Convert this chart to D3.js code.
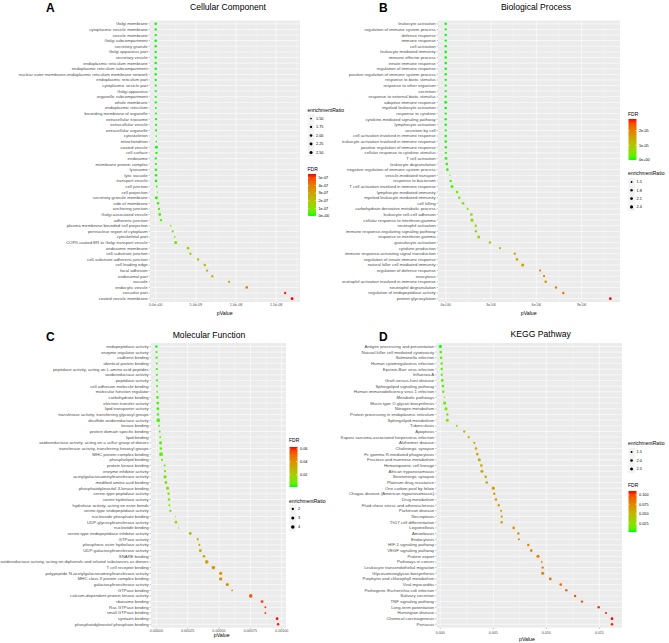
<!DOCTYPE html>
<html><head><meta charset="utf-8">
<script src="https://cdn.jsdelivr.net/npm/d3@7"></script>
<style>body{margin:0;background:#fff}svg{display:block}text{font-family:"Liberation Sans",Arial,sans-serif}</style>
</head><body>
<svg id="c" width="669" height="643"></svg>
<script>
// ---------------- DATA ----------------
const ccTerms = ["Golgi membrane","cytoplasmic vesicle membrane","vesicle membrane","Golgi subcompartment","secretory granule","Golgi apparatus part","secretory vesicle","endoplasmic reticulum membrane","endoplasmic reticulum subcompartment","nuclear outer membrane-endoplasmic reticulum membrane network","endoplasmic reticulum part","cytoplasmic vesicle part","Golgi apparatus","organelle subcompartment","whole membrane","endoplasmic reticulum","bounding membrane of organelle","extracellular exosome","extracellular vesicle","extracellular organelle","cytoskeleton","mitochondrion","coated vesicle","cell surface","endosome","membrane protein complex","lysosome","lytic vacuole","transport vesicle","cell junction","cell projection","secretory granule membrane","side of membrane","anchoring junction","Golgi-associated vesicle","adherens junction","plasma membrane bounded cell projection","perinuclear region of cytoplasm","cytoskeletal part","COPII-coated ER to Golgi transport vesicle","endosome membrane","cell-substrate junction","cell-substrate adherens junction","cell leading edge","focal adhesion","endosomal part","vacuole","endocytic vesicle","vacuolar part","coated vesicle membrane"];
const ccPValue = [1.2e-15,4.5e-15,9.0e-15,2.1e-14,5.6e-14,1.3e-13,2.4e-13,4.8e-13,7.1e-13,1.1e-12,1.6e-12,2.9e-12,4.4e-12,7.8e-12,1.2e-11,1.9e-11,2.6e-11,3.9e-11,4.3e-11,4.6e-11,6.2e-11,7.5e-11,8.8e-11,9.6e-11,1.0e-11,2.0e-11,3.0e-11,4.0e-11,5.0e-11,1.2e-10,2.0e-10,8.0e-11,2.9e-10,4.1e-10,5.0e-10,6.6e-10,1.87e-9,2.12e-9,2.37e-9,2.49e-9,4.03e-9,4.32e-9,5.28e-9,6.11e-9,6.40e-9,7.06e-9,9.14e-9,1.134e-8,1.612e-8,1.699e-8];
const ccFDR = [6.0e-14,1.1e-13,1.5e-13,2.7e-13,5.6e-13,1.1e-12,1.7e-12,3.0e-12,4.0e-12,5.6e-12,7.8e-12,1.3e-11,1.8e-11,3.0e-11,4.3e-11,6.4e-11,8.3e-11,1.2e-10,1.2e-10,1.2e-10,1.6e-10,1.8e-10,2.1e-10,2.1e-10,1.2e-9,1.5e-9,1.7e-9,1.8e-9,1.9e-9,5.4e-9,1.0e-8,5.1e-9,1.4e-8,2.0e-8,2.3e-8,3.0e-8,8.2e-8,9.0e-8,9.8e-8,1.01e-7,1.59e-7,1.67e-7,1.99e-7,2.25e-7,2.30e-7,2.49e-7,3.15e-7,3.83e-7,5.33e-7,5.50e-7];
const ccRatio = [2.0,1.8,1.8,2.0,1.9,1.8,1.8,1.9,1.9,1.9,1.8,1.7,1.7,1.7,1.8,1.6,1.6,1.7,1.7,1.7,1.5,1.5,2.3,1.8,1.8,1.7,1.9,1.9,2.0,1.6,1.45,2.5,2.0,1.8,2.2,1.8,1.5,1.7,1.5,2.6,2.0,1.8,1.8,2.0,1.8,1.8,1.7,2.0,1.8,2.3];
const ccXTicks = [0,5e-9,1e-8,1.5e-8];
const ccXTickLabels = ["0.0e+00","5.0e-09","1.0e-08","1.5e-08"];
const ccRatioBreaks = [1.5,1.75,2.0,2.25,2.5];
const ccRatioLabels = ["1.50","1.75","2.00","2.25","2.50"];
const ccFDRBreaks = [0,1e-7,2e-7,3e-7,4e-7,5e-7];
const ccFDRLabels = ["0e+00","1e-07","2e-07","3e-07","4e-07","5e-07"];

const bpTerms = ["leukocyte activation","regulation of immune system process","defense response","immune response","cell activation","leukocyte mediated immunity","immune effector process","innate immune response","regulation of immune response","positive regulation of immune system process","response to biotic stimulus","response to other organism","secretion","response to external biotic stimulus","adaptive immune response","myeloid leukocyte activation","response to cytokine","cytokine-mediated signaling pathway","lymphocyte activation","secretion by cell","cell activation involved in immune response","leukocyte activation involved in immune response","positive regulation of immune response","cellular response to cytokine stimulus","T cell activation","leukocyte degranulation","negative regulation of immune system process","vesicle-mediated transport","response to bacterium","T cell activation involved in immune response","lymphocyte mediated immunity","myeloid leukocyte mediated immunity","cell killing","carbohydrate derivative metabolic process","leukocyte cell-cell adhesion","cellular response to interferon-gamma","neutrophil activation","immune response-regulating signaling pathway","response to interferon-gamma","granulocyte activation","cytokine production","immune response-activating signal transduction","regulation of innate immune response","natural killer cell mediated immunity","regulation of defense response","exocytosis","neutrophil activation involved in immune response","neutrophil degranulation","regulation of endopeptidase activity","protein glycosylation"];
const bpPValue = [1e-16,3e-16,8e-16,2e-15,5e-15,1e-14,3e-14,8e-14,2e-13,5e-13,1e-12,2e-12,5e-12,1e-11,3e-11,6e-11,1e-10,2e-10,4e-10,8e-10,1.5e-9,3e-9,6e-9,1.0e-8,2.0e-8,7.0e-8,1.1e-7,2.8e-7,3.3e-7,4.2e-7,7.5e-7,9.0e-7,1.15e-6,1.45e-6,1.70e-6,1.74e-6,1.99e-6,2.0e-6,2.18e-6,2.93e-6,3.60e-6,4.57e-6,4.72e-6,5.10e-6,6.25e-6,6.51e-6,6.62e-6,7.30e-6,7.79e-6,1.09e-5];
const bpFDR = [1e-12,2e-12,4e-12,8e-12,1.5e-11,3e-11,6e-11,1e-10,2e-10,4e-10,7e-10,1e-9,2e-9,4e-9,7e-9,1e-8,1.5e-8,2.5e-8,4e-8,6e-8,8e-8,1e-7,1.3e-7,1.6e-7,2.0e-7,3.5e-7,5.0e-7,1.3e-6,1.5e-6,1.8e-6,3.1e-6,3.6e-6,4.5e-6,5.5e-6,6.2e-6,6.2e-6,6.9e-6,6.8e-6,7.2e-6,9.4e-6,1.13e-5,1.40e-5,1.41e-5,1.49e-5,1.78e-5,1.82e-5,1.81e-5,1.95e-5,2.04e-5,2.80e-5];
const bpRatio = [1.9,1.7,1.8,1.7,1.8,2.0,1.9,1.9,1.8,1.8,1.7,1.7,1.6,1.7,2.1,2.0,1.7,1.8,1.8,1.6,1.9,1.9,1.8,1.6,2.1,2.0,2.0,1.4,1.8,2.3,2.0,1.9,2.0,1.6,2.0,2.4,1.8,1.8,2.4,1.8,1.6,1.8,1.9,2.5,1.7,1.7,1.8,1.8,1.9,2.0];
const bpXTicks = [0,3e-6,6e-6,9e-6];
const bpXTickLabels = ["0e+00","3e-06","6e-06","9e-06"];
const bpFDRBreaks = [0,1e-5,2e-5];
const bpFDRLabels = ["0e+00","1e-05","2e-05"];
const bpRatioBreaks = [1.5,1.8,2.1,2.4];
const bpRatioLabels = ["1.5","1.8","2.1","2.4"];

const mfTerms = ["endopeptidase activity","enzyme regulator activity","cadherin binding","identical protein binding","peptidase activity, acting on L-amino acid peptides","oxidoreductase activity","peptidase activity","cell adhesion molecule binding","molecular function regulator","carbohydrate binding","electron transfer activity","lipid transporter activity","transferase activity, transferring glycosyl groups","disulfide oxidoreductase activity","kinase binding","protein domain specific binding","lipid binding","oxidoreductase activity, acting on a sulfur group of donors","transferase activity, transferring hexosyl groups","MHC protein complex binding","phospholipid binding","protein kinase binding","enzyme inhibitor activity","acetylgalactosaminyltransferase activity","modified amino acid binding","phosphatidylinositol 3-kinase binding","serine-type peptidase activity","serine hydrolase activity","hydrolase activity, acting on ester bonds","serine-type endopeptidase activity","nucleoside phosphate binding","UDP-glycosyltransferase activity","nucleotide binding","serine-type endopeptidase inhibitor activity","GTPase activity","phosphoric ester hydrolase activity","UDP-galactosyltransferase activity","SNARE binding","oxidoreductase activity, acting on diphenols and related substances as donors","T cell receptor binding","polypeptide N-acetylgalactosaminyltransferase activity","MHC class II protein complex binding","galactosyltransferase activity","GTPase binding","calcium-dependent protein kinase activity","ribosome binding","Ras GTPase binding","small GTPase binding","syntaxin binding","phosphatidylinositol phosphate binding"];
const mfPValue = [3e-7,1.5e-6,2.0e-6,3.0e-6,3.5e-6,4.0e-6,4.5e-6,6.0e-6,6.5e-6,9e-6,1.1e-5,1.2e-5,1.3e-5,1.6e-5,2.2e-5,2.7e-5,3.1e-5,3.4e-5,3.7e-5,3.8e-5,4.5e-5,6.6e-5,6.9e-5,7.0e-5,7.7e-5,9.0e-5,9.8e-5,1.01e-4,1.04e-4,1.12e-4,1.54e-4,1.57e-4,1.78e-4,2.71e-4,3.30e-4,3.43e-4,3.51e-4,3.80e-4,4.02e-4,4.55e-4,5.13e-4,5.13e-4,5.66e-4,6.04e-4,7.53e-4,8.43e-4,8.70e-4,8.70e-4,9.63e-4,9.71e-4];
const mfFDR = [0.0010,0.0024,0.0021,0.0024,0.0022,0.0021,0.0021,0.0024,0.0023,0.0029,0.0032,0.0032,0.0032,0.0037,0.0047,0.0054,0.0058,0.0060,0.0062,0.0061,0.0069,0.0096,0.0096,0.0093,0.0099,0.0111,0.0116,0.0115,0.0115,0.0119,0.0159,0.0157,0.0173,0.0255,0.0302,0.0305,0.0304,0.0320,0.0330,0.0364,0.0400,0.0390,0.0421,0.0439,0.0535,0.0586,0.0592,0.0580,0.0629,0.0621];
const mfRatio = [2.2,1.9,2.0,1.7,2.0,1.8,1.9,1.8,1.6,2.4,2.8,2.8,2.3,4.4,1.7,1.8,1.7,3.2,2.5,4.6,1.9,1.8,2.0,3.6,2.6,3.2,2.2,2.2,1.8,2.2,1.5,2.6,1.5,2.8,2.0,1.8,3.0,2.4,4.2,4.2,3.4,3.6,3.0,1.6,4.2,2.6,1.7,1.7,2.4,2.1];
const mfXTicks = [0,0.00025,0.0005,0.00075,0.001];
const mfXTickLabels = ["0.00000","0.00025","0.00050","0.00075","0.00100"];
const mfFDRBreaks = [0.02,0.04,0.06];
const mfFDRLabels = ["0.02","0.04","0.06"];
const mfRatioBreaks = [2,3,4];
const mfRatioLabels = ["2","3","4"];

const keggTerms = ["Antigen processing and presentation","Natural killer cell mediated cytotoxicity","Salmonella infection","Human cytomegalovirus infection","Epstein-Barr virus infection","Influenza A","Graft-versus-host disease","Sphingolipid signaling pathway","Human immunodeficiency virus 1 infection","Metabolic pathways","Mucin type O-glycan biosynthesis","Nitrogen metabolism","Protein processing in endoplasmic reticulum","Sphingolipid metabolism","Tuberculosis","Apoptosis","Kaposi sarcoma-associated herpesvirus infection","Alzheimer disease","Cholinergic synapse","Fc gamma R-mediated phagocytosis","Fructose and mannose metabolism","Hematopoietic cell lineage","African trypanosomiasis","Serotonergic synapse","Platinum drug resistance","One carbon pool by folate","Chagas disease (American trypanosomiasis)","Drug metabolism","Fluid shear stress and atherosclerosis","Parkinson disease","Necroptosis","Th17 cell differentiation","Legionellosis","Amoebiasis","Endocytosis","HIF-1 signaling pathway","VEGF signaling pathway","Protein export","Pathways in cancer","Leukocyte transendothelial migration","Glycosaminoglycan biosynthesis","Porphyrin and chlorophyll metabolism","Viral myocarditis","Pathogenic Escherichia coli infection","Salivary secretion","TNF signaling pathway","Long-term potentiation","Huntington disease","Chemical carcinogenesis","Pertussis"];
const keggPValue = [0.000005,0.00004,0.00007,0.00013,0.00013,0.00014,0.00019,0.00025,0.00028,0.00038,0.00041,0.00054,0.00066,0.00066,0.00155,0.00226,0.00268,0.00321,0.00337,0.00349,0.00368,0.00387,0.00393,0.00428,0.00438,0.00500,0.00509,0.00525,0.00551,0.00573,0.00579,0.00579,0.00692,0.00736,0.00742,0.00830,0.00858,0.00922,0.00957,0.00966,0.00966,0.01038,0.01136,0.01189,0.01271,0.01337,0.01494,0.01563,0.0162,0.0162];
const keggFDR = [0.0017,0.0067,0.0078,0.0108,0.0087,0.0078,0.0090,0.0104,0.0104,0.0127,0.0124,0.0150,0.0169,0.0157,0.0344,0.0470,0.0525,0.0594,0.0591,0.0581,0.0584,0.0586,0.0569,0.0594,0.0583,0.0640,0.0628,0.0624,0.0633,0.0636,0.0622,0.0603,0.0698,0.0721,0.0706,0.0768,0.0772,0.0808,0.0817,0.0804,0.0785,0.0823,0.0880,0.0900,0.0940,0.0968,0.1058,0.1084,0.1101,0.1079];
const keggRatio = [2.7,2.2,2.1,1.9,1.9,1.7,2.3,2.2,1.8,1.3,2.8,2.8,1.9,2.5,1.5,1.8,1.7,1.6,1.9,2.0,2.6,2.0,2.6,1.9,2.0,2.8,1.9,2.0,1.8,1.6,1.7,1.9,2.1,1.9,1.6,1.9,2.1,2.7,1.4,1.8,2.7,2.3,2.0,1.9,1.9,1.8,1.9,1.5,2.1,2.0];
const keggXTicks = [0,0.005,0.010,0.015];
const keggXTickLabels = ["0.000","0.005","0.010","0.015"];
const keggRatioBreaks = [1.5,2.0,2.5];
const keggRatioLabels = ["1.5","2.0","2.5"];
const keggFDRBreaks = [0.025,0.05,0.075,0.1];
const keggFDRLabels = ["0.025","0.050","0.075","0.100"];

// ---------------- DRAW ----------------
const svg = d3.select('#c');
const colInterp = d3.interpolateLab('#00FF00', '#FF0000');
const defs = svg.append('defs');
let gid = 0;

function panel(cfg) {
  const g = svg.append('g');
  const [x0, y0, x1, y1] = cfg.rect;
  const x = d3.scaleLinear().domain(cfg.xDomain).range([x0, x1]);
  const y = d3.scalePoint().domain(cfg.terms).range([y0, y1]).padding(0.6);
  const cScale = d3.scaleLinear().domain(d3.extent(cfg.fdr)).range([0, 1]);
  const tScale = d3.scaleLinear().domain(d3.extent(cfg.ratio)).range([0, 1]);
  const rScale = d3.scaleSqrt().domain([0, 1]).range(cfg.rRange);
  const rad = v => rScale(Math.max(0, Math.min(1, tScale(v))));
  const col = v => colInterp(Math.max(0, Math.min(1, cScale(v))));

  g.append('rect').attr('x', x0).attr('y', y0).attr('width', x1 - x0).attr('height', y1 - y0).attr('fill', '#EBEBEB');
  const t = cfg.xTicks, step = t[1] - t[0];
  const minors = [];
  for (let v = t[0] - step / 2; v <= cfg.xDomain[1]; v += step) if (v >= cfg.xDomain[0]) minors.push(v);
  g.selectAll(null).data(minors).enter().append('line')
    .attr('x1', d => x(d)).attr('x2', d => x(d)).attr('y1', y0).attr('y2', y1)
    .attr('stroke', '#fff').attr('stroke-width', 0.3);
  g.selectAll(null).data(cfg.xTicks).enter().append('line')
    .attr('x1', d => x(d)).attr('x2', d => x(d)).attr('y1', y0).attr('y2', y1)
    .attr('stroke', '#fff').attr('stroke-width', 0.6);
  g.selectAll(null).data(cfg.terms).enter().append('line')
    .attr('x1', x0).attr('x2', x1).attr('y1', d => y(d)).attr('y2', d => y(d))
    .attr('stroke', '#fff').attr('stroke-width', 0.6);

  const pts = cfg.terms.map((d, i) => ({ term: d, p: cfg.p[i], fdr: cfg.fdr[i], ratio: cfg.ratio[i] }));
  g.selectAll(null).data(pts).enter().append('circle')
    .attr('cx', d => x(d.p)).attr('cy', d => y(d.term)).attr('r', d => rad(d.ratio))
    .attr('fill', d => col(d.fdr));

  const yl = g.append('g');
  if (cfg.clipX != null) {
    const id = 'clip' + (gid++);
    defs.append('clipPath').attr('id', id).append('rect').attr('x', cfg.clipX).attr('y', y0 - 10).attr('width', 700).attr('height', y1 - y0 + 20);
    yl.attr('clip-path', `url(#${id})`);
  }
  yl.selectAll(null).data(cfg.terms).enter().append('text')
    .attr('x', x0 - 2.3).attr('y', d => y(d)).attr('dy', '0.34em')
    .attr('text-anchor', 'end').attr('font-size', cfg.labelSize).attr('fill', '#4D4D4D').text(d => d);
  g.selectAll(null).data(cfg.terms).enter().append('line')
    .attr('x1', x0 - 1.4).attr('x2', x0).attr('y1', d => y(d)).attr('y2', d => y(d))
    .attr('stroke', '#333').attr('stroke-width', 0.3);
  g.selectAll(null).data(cfg.xTicks).enter().append('line')
    .attr('x1', d => x(d)).attr('x2', d => x(d)).attr('y1', y1).attr('y2', y1 + 1.4)
    .attr('stroke', '#333').attr('stroke-width', 0.3);
  g.selectAll(null).data(cfg.xTicks).enter().append('text')
    .attr('x', d => x(d)).attr('y', y1 + cfg.tickDy).attr('text-anchor', 'middle')
    .attr('font-size', 3.7).attr('fill', '#4D4D4D').text((d, i) => cfg.xTickLabels[i]);
  g.append('text').attr('x', cfg.xlab[0]).attr('y', cfg.xlab[1]).attr('text-anchor', 'middle')
    .attr('font-size', 5.2).attr('fill', '#000').text('pValue');
  g.append('text').attr('x', cfg.title[1]).attr('y', cfg.title[2]).attr('text-anchor', 'middle')
    .attr('font-size', 8.6).attr('fill', '#000').text(cfg.title[0]);
  g.append('text').attr('x', cfg.letter[1]).attr('y', cfg.letter[2])
    .attr('font-size', 12).attr('font-weight', 'bold').attr('fill', '#000').text(cfg.letter[0]);

  const sl = cfg.sizeLeg;
  g.append('text').attr('x', cfg.legX).attr('y', sl.titleY).attr('dy', '0.35em')
    .attr('font-size', 5).attr('fill', '#000').text('enrichmentRatio');
  cfg.ratioBreaks.forEach((b, i) => {
    const cy = sl.keyY + i * sl.step;
    g.append('rect').attr('x', cfg.legX + 0.3).attr('y', cy - sl.step / 2).attr('width', sl.keyW).attr('height', sl.step)
      .attr('fill', '#F2F2F2');
    g.append('circle').attr('cx', cfg.legX + 0.3 + sl.keyW / 2).attr('cy', cy).attr('r', rad(b)).attr('fill', '#000');
    g.append('text').attr('x', cfg.legX + sl.keyW + 2).attr('y', cy).attr('dy', '0.35em')
      .attr('font-size', 3.8).attr('fill', '#000').text(cfg.ratioLabels[i]);
  });
  const cl = cfg.colLeg;
  g.append('text').attr('x', cfg.legX).attr('y', cl.titleY).attr('dy', '0.35em')
    .attr('font-size', 5).attr('fill', '#000').text('FDR');
  const gradId = 'grad' + (gid++);
  const grad = defs.append('linearGradient').attr('id', gradId).attr('x1', 0).attr('y1', 1).attr('x2', 0).attr('y2', 0);
  d3.range(0, 1.0001, 0.1).forEach(s => grad.append('stop').attr('offset', s).attr('stop-color', colInterp(s)));
  const by = d3.scaleLinear().domain(d3.extent(cfg.fdr)).range([cl.bottom, cl.top]);
  g.append('rect').attr('x', cfg.legX + 0.5).attr('y', cl.top).attr('width', 8).attr('height', cl.bottom - cl.top)
    .attr('fill', `url(#${gradId})`);
  cfg.fdrBreaks.forEach((b, i) => {
    const yy = by(b);
    g.append('line').attr('x1', cfg.legX + 0.5).attr('x2', cfg.legX + 2).attr('y1', yy).attr('y2', yy).attr('stroke', '#fff').attr('stroke-width', 0.4);
    g.append('line').attr('x1', cfg.legX + 7).attr('x2', cfg.legX + 8.5).attr('y1', yy).attr('y2', yy).attr('stroke', '#fff').attr('stroke-width', 0.4);
    g.append('text').attr('x', cfg.legX + 11).attr('y', yy).attr('dy', '0.35em')
      .attr('font-size', 3.8).attr('fill', '#000').text(cfg.fdrLabels[i]);
  });
}

panel({
  terms: ccTerms, p: ccPValue, fdr: ccFDR, ratio: ccRatio,
  rect: [150, 20.5, 300, 302], xDomain: [-0.71e-9, 17.97e-9], rRange: [0.65, 1.6],
  xTicks: ccXTicks, xTickLabels: ccXTickLabels, tickDy: 4.3, xlab: [224.7, 314.5],
  title: ['Cellular Component', 228, 10], letter: ['A', 46, 12], labelSize: 4.3,
  legX: 307.5, sizeLeg: { titleY: 110, keyY: 118.5, step: 8.5, keyW: 6.5 },
  colLeg: { titleY: 169, top: 174, bottom: 216 },
  ratioBreaks: ccRatioBreaks, ratioLabels: ccRatioLabels, fdrBreaks: ccFDRBreaks, fdrLabels: ccFDRLabels
});
panel({
  terms: bpTerms, p: bpPValue, fdr: bpFDR, ratio: bpRatio,
  rect: [438, 20.5, 620, 302], xDomain: [-0.51e-6, 11.54e-6], rRange: [0.65, 1.6],
  xTicks: bpXTicks, xTickLabels: bpXTickLabels, tickDy: 4.3, xlab: [528.7, 314.5], clipX: 342,
  title: ['Biological Process', 536, 10], letter: ['B', 379, 12], labelSize: 4.3,
  legX: 628, sizeLeg: { titleY: 173, keyY: 182, step: 8.3, keyW: 6.5 },
  colLeg: { titleY: 114, top: 119, bottom: 160 },
  ratioBreaks: bpRatioBreaks, ratioLabels: bpRatioLabels, fdrBreaks: bpFDRBreaks, fdrLabels: bpFDRLabels
});
panel({
  terms: mfTerms, p: mfPValue, fdr: mfFDR, ratio: mfRatio,
  rect: [151, 343, 286, 627.7], xDomain: [-0.0000423, 0.001034], rRange: [0.65, 1.9],
  xTicks: mfXTicks, xTickLabels: mfXTickLabels, tickDy: 4.3, xlab: [221.7, 636.5],
  title: ['Molecular Function', 209, 338], letter: ['C', 46, 340.5], labelSize: 4.3,
  legX: 289, sizeLeg: { titleY: 501, keyY: 509, step: 9, keyW: 7 },
  colLeg: { titleY: 440, top: 447, bottom: 487 },
  ratioBreaks: mfRatioBreaks, ratioLabels: mfRatioLabels, fdrBreaks: mfFDRBreaks, fdrLabels: mfFDRLabels
});
panel({
  terms: keggTerms, p: keggPValue, fdr: keggFDR, ratio: keggRatio,
  rect: [436.5, 343, 622, 627.7], xDomain: [-0.000358, 0.01714], rRange: [0.65, 1.6],
  xTicks: keggXTicks, xTickLabels: keggXTickLabels, tickDy: 6, xlab: [527, 641],
  title: ['KEGG Pathway', 540.7, 337], letter: ['D', 379, 340.5], labelSize: 4.3,
  legX: 628, sizeLeg: { titleY: 443, keyY: 452, step: 8.5, keyW: 6.5 },
  colLeg: { titleY: 485, top: 491, bottom: 532 },
  ratioBreaks: keggRatioBreaks, ratioLabels: keggRatioLabels, fdrBreaks: keggFDRBreaks, fdrLabels: keggFDRLabels
});
</script>
</body></html>
